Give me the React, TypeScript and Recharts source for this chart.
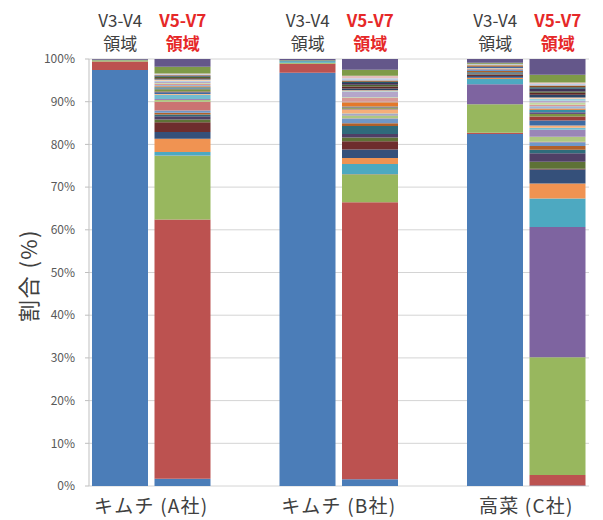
import React from 'react';
import { BarChart, Bar, XAxis, YAxis, CartesianGrid } from 'recharts';

// slots: each pair of bars followed by an empty slot (as in the original sheet)
const slots = ['A_V34', 'A_V57', 'gap1', 'B_V34', 'B_V57', 'gap2', 'C_V34', 'C_V57'];
const groupLabels = ['キムチ (A社)', 'キムチ (B社)', '高菜 (C社)'];
const regionLabels = ['V3-V4', 'V5-V7'];
const regionWord = '領域';
const yTicksPct = [0, 10, 20, 30, 40, 50, 60, 70, 80, 90, 100];

// 40 taxa (stack order bottom -> top)
const seriesColors = [
  '#4B7DB8', '#BC5250', '#98B75E', '#7E64A0', '#4DA9C1', '#F09352',
  '#35507A', '#6E2D2D', '#5E7236', '#4F3F66', '#2F6B7B', '#B0602A',
  '#6F97C8', '#CB7472', '#AEC77F', '#9A86B6', '#72BDD0', '#F6AE78',
  '#3E6BA3', '#993D3A', '#7A9443', '#65507F', '#378DA3', '#E4782A',
  '#9DB8DA', '#D89895', '#C4D8A0', '#B4A6CA', '#98CFDD', '#F8C8A0',
  '#2A4466', '#5E2726', '#4F6230', '#403356', '#25596A', '#8F4E1C',
  '#BCCEE6', '#E4BDBB', '#7E9A48', '#64578A',
];

// percent values per bar, same 40-taxon order
const kimchiA_V34 = [
  97.3, 2.0, 0.2, 0, 0.05, 0,
  0, 0, 0, 0, 0, 0,
  0, 0, 0, 0, 0, 0,
  0, 0, 0, 0, 0, 0,
  0, 0, 0, 0, 0, 0,
  0, 0, 0, 0, 0, 0,
  0, 0, 0.2, 0.15,
];
const kimchiA_V57 = [
  1.7, 60.8, 14.9, 0.1, 0.8, 3.1,
  1.6, 2.3, 0.6, 0.8, 0.4, 0.4,
  0.5, 2.1, 0.4, 0.2, 1.0, 0.2,
  0.4, 0.2, 0.5, 0.2, 0.3, 0.2,
  0.3, 0.3, 0.2, 0.3, 0.2, 0.3,
  0.1, 0.2, 0.3, 0.1, 0.1, 0.2,
  0.2, 0.2, 1.6, 1.8,
];
const kimchiB_V34 = [
  96.8, 2.1, 0.2, 0, 0.4, 0,
  0, 0, 0, 0, 0.1, 0,
  0, 0, 0, 0, 0, 0,
  0, 0, 0, 0, 0, 0,
  0, 0, 0, 0, 0, 0,
  0, 0, 0, 0, 0, 0,
  0, 0, 0.1, 0.3,
];
const kimchiB_V57 = [
  1.6, 64.6, 6.5, 0.1, 2.3, 1.4,
  2.0, 1.9, 0.9, 0.8, 1.9, 0.6,
  1.1, 0.1, 0.6, 0.3, 0.2, 0.9,
  0.1, 0.1, 0.3, 0.1, 0.1, 1.0,
  0.1, 0.9, 0.2, 1.2, 0.2, 0.2,
  0.4, 0.5, 0.4, 0.4, 0.3, 0.3,
  0.5, 0.6, 1.4, 2.5,
];
const takana_V34 = [
  82.6, 0.3, 6.7, 4.7, 1.2, 0.3,
  0.4, 0.3, 0.1, 0.2, 0.3, 0.3,
  0.2, 0.2, 0, 0, 0.2, 0.1,
  0.2, 0.2, 0.1, 0, 0.1, 0.1,
  0, 0.1, 0, 0, 0.1, 0,
  0, 0, 0, 0.1, 0, 0,
  0, 0, 0.2, 0.9,
];
const takana_V57 = [
  0.1, 2.5, 27.6, 30.5, 6.7, 3.5,
  3.3, 0.2, 1.6, 2.0, 0.8, 0.9,
  0.9, 0.1, 1.2, 1.6, 0.5, 0.5,
  1.2, 0.9, 0.6, 0.4, 0.6, 0.3,
  0.5, 0.4, 0.5, 0.4, 0.5, 0.3,
  0.6, 0.5, 0.3, 0.6, 0.4, 0.4,
  0.4, 0.3, 1.8, 3.7,
];

const barValues = [kimchiA_V34, kimchiA_V57, null, kimchiB_V34, kimchiB_V57, null, takana_V34, takana_V57];

const data = slots.map((slot, i) => {
  const row: Record<string, any> = { slot };
  const vals = barValues[i];
  seriesColors.forEach((_, k) => {
    row['s' + k] = vals ? vals[k] : 0;
  });
  return row;
});

const FONT = "'Noto Sans CJK JP', 'Noto Sans', sans-serif";

const TopTick = (props: any) => {
  const { x, y, payload } = props;
  const idx = slots.indexOf(payload.value);
  if (idx < 0 || idx % 3 === 2) return null;
  const isV57 = idx % 3 === 1;
  const color = isV57 ? '#E62828' : '#404040';
  const weight = isV57 ? 700 : 400;
  return (
    <g>
      <text x={x} y={y - 32} textAnchor="middle" fill={color} fontWeight={weight} fontSize={17} fontFamily={FONT}>
        {regionLabels[isV57 ? 1 : 0]}
      </text>
      <text x={x} y={y - 9} textAnchor="middle" fill={color} fontWeight={weight} fontSize={17} fontFamily={FONT}>
        {regionWord}
      </text>
    </g>
  );
};

const BottomTick = (props: any) => {
  const { x, y, payload } = props;
  const idx = slots.indexOf(payload.value);
  if (idx < 0 || idx % 3 !== 0) return null;
  const g = Math.floor(idx / 3);
  return (
    <text x={x + 31} y={y + 27} textAnchor="middle" fill="#404040" fontSize={19} letterSpacing={1.2} fontFamily={FONT}>
      {groupLabels[g]}
    </text>
  );
};

const YLabel = (props: any) => {
  const vb = props.viewBox || { x: 0, y: 0, width: 0, height: 0 };
  const cx = vb.x + 27;
  const cy = vb.y + vb.height / 2 + 3;
  return (
    <text x={cx} y={cy} transform={`rotate(-90, ${cx}, ${cy})`} textAnchor="middle" dominantBaseline="central"
      fill="#404040" fontSize={22} letterSpacing={1.5} fontFamily={FONT}>
      割合 (%)
    </text>
  );
};

export default function App() {
  return (
    <div style={{ position: 'absolute', left: 0, top: 0, width: 603, height: 520, background: '#fff' }}>
      <BarChart
        width={603}
        height={520}
        data={data}
        stackOffset="expand"
        margin={{ top: 0, right: 14, bottom: 0, left: 0 }}
        barSize={56}
      >
        <CartesianGrid vertical={false} stroke="#d4d4d4" xAxisId="bottom" />
        <XAxis xAxisId="top" orientation="top" dataKey="slot" height={59} axisLine={false} tickLine={false}
          tickSize={0} tickMargin={0} interval={0} tick={<TopTick />} />
        <XAxis xAxisId="bottom" dataKey="slot" height={34} axisLine={false} tickLine={false}
          tickSize={0} tickMargin={0} interval={0} tick={<BottomTick />} />
        <YAxis
          width={89}
          domain={[0, 1]}
          ticks={yTicksPct.map((t) => t / 100)}
          tickFormatter={(v: number) => `${Math.round(v * 100)}%`}
          tick={{ fill: '#595959', fontSize: 12, fontFamily: FONT }}
          axisLine={{ stroke: '#bfbfbf' }}
          tickLine={{ stroke: '#bfbfbf' }}
          tickSize={4}
          tickMargin={10}
          label={<YLabel />}
        />
        {seriesColors.map((c, k) => (
          <Bar key={k} xAxisId="bottom" dataKey={'s' + k} stackId="a" fill={c} isAnimationActive={false} />
        ))}
      </BarChart>
    </div>
  );
}
